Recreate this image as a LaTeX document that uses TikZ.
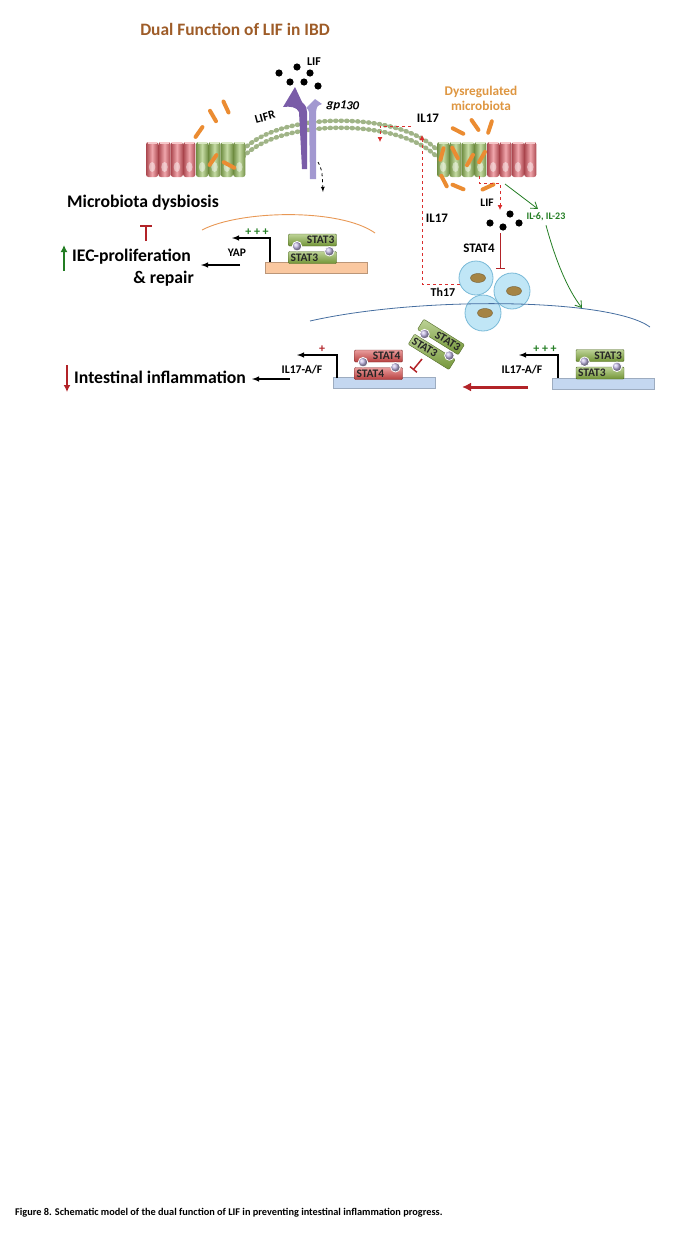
\documentclass[tikz,border=0pt]{standalone}
\usepackage{fontspec}
\setmainfont{Carlito}
\usetikzlibrary{arrows.meta,positioning,calc}

\definecolor{titlebrown}{RGB}{158,92,40}
\definecolor{microtext}{RGB}{222,150,65}
\definecolor{bact}{RGB}{235,140,50}
\definecolor{memgreen}{RGB}{178,200,150}
\definecolor{redcell}{RGB}{228,95,105}
\definecolor{greencell}{RGB}{150,190,90}
\definecolor{lifrc}{RGB}{122,92,168}
\definecolor{gpc}{RGB}{162,152,208}
\definecolor{il17red}{RGB}{218,45,45}
\definecolor{inhred}{RGB}{178,35,40}
\definecolor{sigreen}{RGB}{35,125,35}
\definecolor{thfill}{RGB}{192,230,246}
\definecolor{thdraw}{RGB}{120,185,215}
\definecolor{nuc}{RGB}{165,132,68}
\definecolor{arcblue}{RGB}{70,110,160}
\definecolor{arcorange}{RGB}{232,152,85}
\definecolor{dnaorange}{RGB}{250,200,160}
\definecolor{dnablue}{RGB}{196,215,240}
\definecolor{stat3green}{RGB}{135,175,65}
\definecolor{stat4red}{RGB}{215,75,75}
\definecolor{spherec}{RGB}{190,180,225}

\tikzset{
  lbl/.style={inner sep=0pt, font=\bfseries\fontsize{12}{13}\selectfont},
  midlbl/.style={inner sep=0pt, font=\bfseries\fontsize{13}{14}\selectfont},
  biglbl/.style={inner sep=0pt, font=\bfseries\fontsize{17.7}{20}\selectfont},
  statbox/.style={minimum width=48pt, minimum height=12pt, inner xsep=2pt, inner ysep=0pt,
    text width=44pt, rounded corners=1pt, font=\bfseries\fontsize{11.5}{11.5}\selectfont, text=black!85},
  stat3box/.style={statbox, draw=stat3green!60!black, top color=stat3green!55!white, bottom color=stat3green!85!black},
  stat4box/.style={statbox, draw=stat4red!60!black, top color=stat4red!55!white, bottom color=stat4red!85!black},
  sphere/.style={circle, minimum size=9.5pt, inner sep=0pt, draw=white, thick, shading=ball, ball color=spherec},
  dnabar/.style={minimum width=102pt, minimum height=11pt, inner sep=0pt},
  bactrod/.style={draw=bact, line width=4pt, line cap=round},
  genearrow/.style={line width=1.4pt, -latex},
  il17dash/.style={draw=il17red, dashed, thick, -{Latex[length=5pt,width=5pt]}},
  inh/.style={draw=inhred, line width=1pt, -{Bar[width=9pt]}},
  th17cell/.style={circle, draw=thdraw, fill=thfill, thick, inner sep=0pt},
}

\begin{document}
\begin{tikzpicture}[x=1pt,y=-1pt]
\useasboundingbox (0,0) rectangle (678,1240);

\node[inner sep=0pt, font=\bfseries\fontsize{17.4}{19}\selectfont, text=titlebrown] (title) at (235,29) {Dual Function of LIF in IBD};

% membrane
\foreach \dy in {0,7} {
  \draw[memgreen, line width=1pt] (243,150+\dy) .. controls (280,111+\dy) and (400,111+\dy) .. (437,150+\dy);
  \draw[memgreen!90!black, line width=4.5pt, line cap=round, dash pattern=on 1pt off 4.5pt]
    (243,150+\dy) .. controls (280,111+\dy) and (400,111+\dy) .. (437,150+\dy);
}

% epithelium
\foreach \x/\c in {146/redcell, 158.4/redcell, 170.8/redcell, 183.2/redcell,
  196/greencell, 208.4/greencell, 220.8/greencell, 233.2/greencell,
  437/greencell, 449.4/greencell, 461.8/greencell, 474.2/greencell,
  487/redcell, 499.4/redcell, 511.8/redcell, 524.2/redcell} {
  \shade[rounded corners=2.5pt, left color=\c!75!black, right color=\c!75!black, middle color=\c!55!white] (\x,142) rectangle ++(12.2,35);
  \fill[white, opacity=.45] (\x+6.1,167) ellipse (3.2pt and 5pt);
  \fill[\c!35!white] (\x+1.5,142.3) rectangle ++(9.2,2);
}

% bacteria
\foreach \x/\y/\a in {199/132/-55, 213/116/60, 226/107/65, 213/160/-55, 229/165/28,
  458/131/27, 475/125/55, 490/127/-72, 442/154/-75, 455/153/62, 470/160/-60, 482/157/-60,
  444/181/63, 458/187/23, 488/187/-25}
  \draw[bactrod, shift={(\x,\y)}] (\a:6) -- (\a+180:6);

% receptors
\fill[lifrc] (302,169) -- (299,112) .. controls (297,107) and (290,106) .. (283,107) -- (295,87)
  -- (302,102) .. controls (306,106) .. (307,112) -- (307,169) -- cycle;
\fill[gpc] (310,179) -- (309,112) .. controls (308,109) .. (306,108) -- (315,99) -- (322,104)
  .. controls (317,106) .. (316,112) -- (316,179) -- cycle;
\coordinate (gpin) at (318,162);
\coordinate (gpout) at (323,192);
\draw[dashed, thick, -latex] (gpin) .. controls (322,170) .. (gpout);

\foreach \p in {(279,73),(297,67),(310,73),(290,82),(304,82),(318,86)}
  \fill \p circle (3.6pt);
\node[lbl] (lif) at (314,62) {LIF};
\node[lbl, rotate=15] (lifr) at (265,117) {LIFR};
\node[inner sep=0pt, font=\bfseries\itshape\fontsize{12.5}{13}\selectfont, rotate=-5] (gp) at (343,106) {gp130};

% IL17 at the membrane
\node[midlbl] (il17top) at (428,118) {IL17};
\coordinate (il17a) at (411,126);
\coordinate (il17b) at (380,142);
\draw[il17dash] (il17a) -| (il17b);

\node[inner sep=0pt, align=center, text=microtext, font=\bfseries\fontsize{13.3}{15}\selectfont] (dysreg) at (481,98) {Dysregulated\\microbiota};

% LIF from the inflamed side
\coordinate (lifsrc) at (479,176);
\coordinate (lifdst) at (500,210);
\draw[il17dash] (lifsrc) -- ++(0,7) -| (lifdst);
\node[lbl, font=\bfseries\fontsize{11.5}{12}\selectfont] (lifright) at (487,203) {LIF};
\foreach \p in {(510,214),(490,223),(503,227),(519,223)}
  \fill \p circle (3.6pt);

\node[inner sep=0pt, text=sigreen, font=\bfseries\fontsize{10}{11}\selectfont] (il6) at (546,217) {IL-6, IL-23};
\coordinate (grfrom) at (505,184);
\coordinate (grto) at (538,209);
\coordinate (nucl) at (582,308);
\draw[sigreen, thick, -{Straight Barb[length=6pt,width=8pt]}] (grfrom) -- (grto);
\draw[sigreen, thick, -{Straight Barb[length=6pt,width=8pt]}] ([yshift=-4pt]il6.south) .. controls (556,262) and (568,290) .. (nucl);

\node[midlbl] (il17mid) at (437,218) {IL17};
\node[midlbl] (stat4lbl) at (479,248) {STAT4};
\coordinate (s4from) at (500,233);
\coordinate (s4to) at (500,269);
\draw[inh] (s4from) -- (s4to);

% Th17 cells
\node[th17cell, minimum size=34pt] (th1) at (476,278) {};
\node[th17cell, minimum size=36pt] (th2) at (512,291) {};
\node[th17cell, minimum size=36pt] (th3) at (483,313) {};
\foreach \t in {th1,th2,th3}
  \fill[nuc, draw=nuc!70!black] ([xshift=2pt]\t.center) ellipse (7.5pt and 4.5pt);
\node[lbl] (th17lbl) at (443,292) {Th17};
\coordinate (il17up) at (422,135);
\draw[il17dash] (th1.200) -| (il17up);

\draw[arcblue, line width=0.8pt] (310,321) .. controls (420,296) and (610,298) .. (650,327);
\draw[arcorange, line width=0.9pt] (202,230) .. controls (240,210) and (340,208) .. (375,233);

% left side
\node[biglbl] (dysb) at (143,203) {Microbiota dysbiosis};
\coordinate (tbase) at (146,241);
\coordinate (ttop) at (146,225);
\draw[inhred, line width=2pt, -{Bar[width=12pt]}] (tbase) -- (ttop);
\node[biglbl, anchor=west] (iec) at (72,257) {IEC-proliferation};
\node[biglbl, anchor=east] (repair) at (194,279) {\& repair};
\coordinate (upfrom) at (64,271);
\coordinate (upto) at (64,245);
\draw[sigreen, line width=2pt, -{Latex[length=7pt,width=7pt]}] (upfrom) -- (upto);

% promoters
\node[dnabar, fill=dnaorange, draw=dnaorange!75!black] (bar1) at (316,267.5) {};
\node[dnabar, fill=dnablue, draw=dnablue!80!black] (bar2) at (384,383) {};
\node[dnabar, fill=dnablue, draw=dnablue!80!black] (bar3) at (603.5,384) {};

\foreach \nm/\x/\y/\r/\bx/\txt in {d1/312.5/240/0/stat3box/STAT3, d2/378.5/356/0/stat4box/STAT4,
  d3/441/337/-32/stat3box/STAT3, d4/600/355.5/0/stat3box/STAT3} {
  \begin{scope}[shift={(\x,\y)}, rotate=\r, transform shape]
    \node[\bx, align=right] (\nm-t) at (0,0) {\txt};
    \node[\bx, align=left] (\nm-b) at (0,17.5) {\txt};
  \end{scope}
  \node[sphere] (\nm-s1) at ($(\nm-t.south west)!.18!(\nm-t.south east)$) {};
  \node[sphere] (\nm-s2) at ($(\nm-b.north west)!.85!(\nm-b.north east)$) {};
}

% YAP
\coordinate (g1s) at (270,262);
\coordinate (g1e) at (232,238);
\draw[genearrow] (g1s) |- (g1e);
\node[inner sep=0pt, text=sigreen, font=\bfseries\fontsize{12}{12}\selectfont] (plus1) at (257,232) {+ + +};
\node[lbl, font=\bfseries\fontsize{11.5}{12}\selectfont] (yap) at (237,253) {YAP};
\coordinate (yapfrom) at (240,265);
\coordinate (iecend) at (201,265);
\draw[genearrow] (yapfrom) -- (iecend);

% IL17-A/F, repressed
\node[biglbl, anchor=west] (infl) at (74,377) {Intestinal inflammation};
\coordinate (dnfrom) at (67,365);
\coordinate (dnto) at (67,392);
\draw[inhred, line width=2pt, -{Latex[length=7pt,width=7pt]}] (dnfrom) -- (dnto);
\node[lbl, font=\bfseries\fontsize{11.7}{12}\selectfont] (af1) at (302,370) {IL17-A/F};
\coordinate (g2s) at (337,378);
\coordinate (g2e) at (297,355);
\draw[genearrow] (g2s) |- (g2e);
\node[inner sep=0pt, text=inhred, font=\bfseries\fontsize{12}{12}\selectfont] (plus2) at (322,349) {+};
\coordinate (af1from) at (290,379);
\coordinate (af1to) at (252,379);
\draw[genearrow] (af1from) -- (af1to);
\coordinate (d3from) at (422,359);
\coordinate (d3to) at (413,370);
\draw[inh, line width=1.5pt] (d3from) -- (d3to);

% IL17-A/F, induced
\coordinate (g3s) at (558,378);
\coordinate (g3e) at (519,355);
\draw[genearrow] (g3s) |- (g3e);
\node[inner sep=0pt, text=sigreen, font=\bfseries\fontsize{12}{12}\selectfont] (plus3) at (545,349) {+ + +};
\node[lbl, font=\bfseries\fontsize{11.7}{12}\selectfont] (af2) at (522,370) {IL17-A/F};
\coordinate (swfrom) at (528,387);
\coordinate (swto) at (462,387);
\draw[inhred, line width=3pt, -{Latex[length=9pt,width=9pt]}] (swfrom) -- (swto);

\node[inner sep=0pt, anchor=west, font=\bfseries\fontsize{10.3}{12}\selectfont] (caption) at (15,1213)
  {Figure 8. Schematic model of the dual function of LIF in preventing intestinal inflammation progress.};
\end{tikzpicture}
\end{document}
